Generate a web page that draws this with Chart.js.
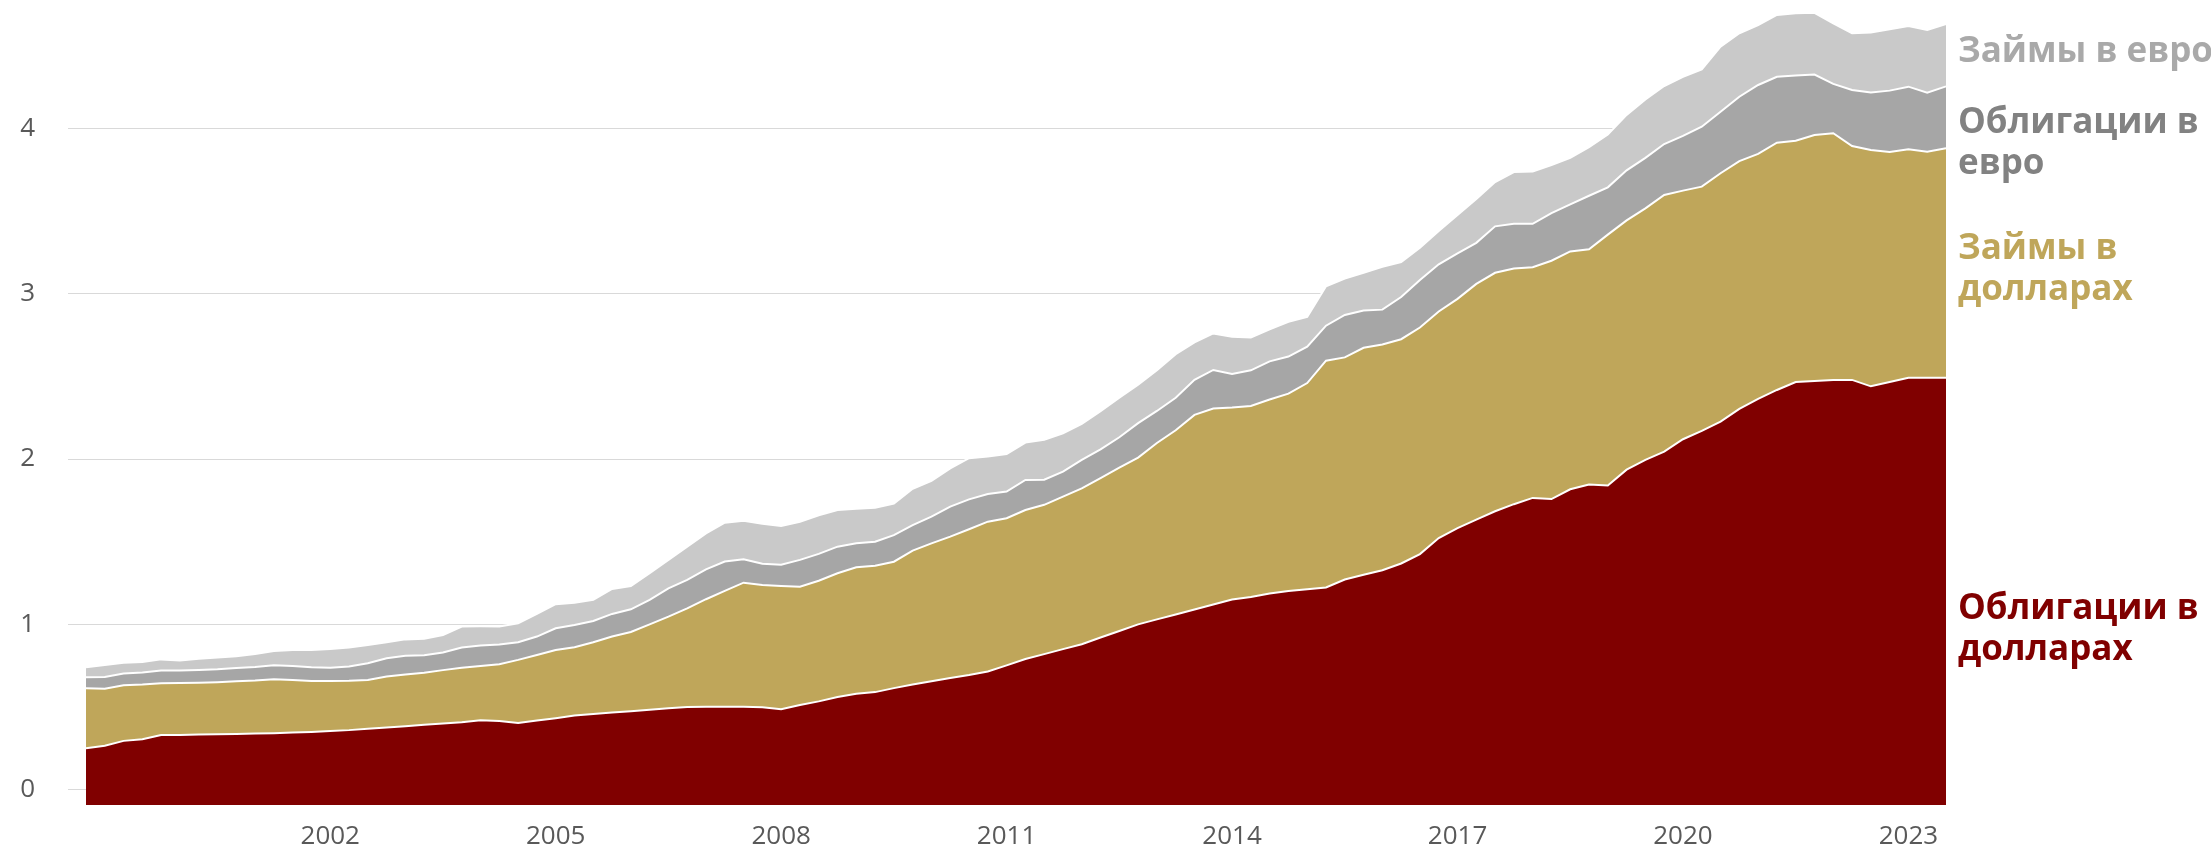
<!DOCTYPE html>
<html>
<head>
<meta charset="utf-8">
<script src="https://cdn.jsdelivr.net/npm/chart.js@4"></script>
<style>
  html,body{margin:0;padding:0;background:#fff;}
  #wrap{width:2211px;height:851px;position:relative;}
</style>
</head>
<body>
<div id="wrap"><canvas id="debtChart"></canvas></div>
<script>
// quarterly series, trillions
const firstYear=1998, firstQuarter=4, quarterCount=100;
const yearTicks=[2002,2005,2008,2011,2014,2017,2020,2023];

const bondsUsd=[
 0.25,0.265,0.295,0.305,0.33,0.331,0.333,0.335,0.337,0.339,
 0.341,0.345,0.349,0.355,0.36,0.368,0.376,0.384,0.392,0.40,
 0.408,0.42,0.415,0.403,0.418,0.432,0.448,0.458,0.466,0.474,
 0.484,0.492,0.50,0.502,0.502,0.502,0.498,0.486,0.512,0.534,
 0.56,0.58,0.59,0.614,0.636,0.656,0.676,0.694,0.715,0.752,
 0.79,0.82,0.85,0.88,0.92,0.96,1.00,1.03,1.06,1.09,
 1.12,1.15,1.165,1.186,1.201,1.212,1.223,1.271,1.30,1.327,
 1.368,1.425,1.522,1.582,1.634,1.684,1.727,1.765,1.758,1.817,
 1.846,1.84,1.936,1.995,2.045,2.12,2.17,2.226,2.303,2.364,
 2.418,2.466,2.472,2.479,2.479,2.44,2.466,2.492,2.492,2.492];

const loansUsd=[
 0.363,0.346,0.337,0.331,0.314,0.314,0.314,0.315,0.318,0.321,
 0.327,0.319,0.308,0.302,0.298,0.295,0.309,0.313,0.315,0.323,
 0.329,0.328,0.344,0.382,0.397,0.413,0.414,0.434,0.460,0.480,
 0.516,0.555,0.597,0.650,0.700,0.750,0.740,0.746,0.716,0.730,
 0.749,0.765,0.765,0.765,0.810,0.834,0.855,0.881,0.906,0.890,
 0.902,0.903,0.923,0.943,0.964,0.988,1.009,1.067,1.114,1.177,
 1.186,1.162,1.156,1.174,1.195,1.248,1.372,1.344,1.373,1.366,
 1.357,1.371,1.371,1.387,1.426,1.443,1.426,1.396,1.442,1.439,
 1.423,1.518,1.508,1.522,1.553,1.504,1.478,1.503,1.500,1.482,
 1.496,1.460,1.489,1.492,1.415,1.430,1.392,1.383,1.368,1.388];

const bondsEur=[
 0.067,0.071,0.070,0.072,0.076,0.076,0.077,0.078,0.081,0.082,
 0.084,0.084,0.083,0.080,0.087,0.102,0.110,0.113,0.106,0.107,
 0.123,0.124,0.119,0.107,0.111,0.131,0.134,0.128,0.137,0.137,
 0.148,0.171,0.172,0.181,0.178,0.142,0.128,0.128,0.162,0.162,
 0.161,0.145,0.145,0.161,0.154,0.162,0.181,0.181,0.168,0.161,
 0.182,0.152,0.151,0.172,0.175,0.184,0.208,0.194,0.197,0.212,
 0.233,0.203,0.216,0.231,0.224,0.220,0.212,0.257,0.226,0.211,
 0.255,0.287,0.285,0.276,0.248,0.281,0.270,0.262,0.288,0.285,
 0.324,0.286,0.303,0.305,0.308,0.331,0.363,0.372,0.389,0.417,
 0.399,0.394,0.365,0.299,0.339,0.347,0.371,0.378,0.357,0.375];

const loansEur=[
 0.060,0.072,0.066,0.064,0.068,0.061,0.068,0.071,0.071,0.079,
 0.087,0.097,0.105,0.114,0.115,0.110,0.097,0.099,0.100,0.106,
 0.127,0.116,0.109,0.114,0.137,0.146,0.135,0.128,0.151,0.141,
 0.161,0.172,0.201,0.217,0.235,0.232,0.243,0.235,0.230,0.234,
 0.222,0.210,0.205,0.190,0.220,0.216,0.232,0.249,0.226,0.228,
 0.226,0.241,0.232,0.218,0.231,0.240,0.233,0.246,0.263,0.227,
 0.221,0.225,0.198,0.194,0.210,0.180,0.238,0.220,0.228,0.259,
 0.212,0.195,0.202,0.232,0.266,0.268,0.313,0.317,0.291,0.281,
 0.294,0.319,0.335,0.353,0.351,0.358,0.347,0.394,0.384,0.363,
 0.374,0.377,0.374,0.366,0.343,0.363,0.371,0.367,0.379,0.377];

const seriesNames=["Облигации в долларах","Займы в долларах","Облигации в евро","Займы в евро"];
const seriesColors=["#800000","#bfa65a","#a6a6a6","#c9c9c9"];

// labels like "2002 Q1"
let quarters=[];
for(let k=0;k<quarterCount;k++){
    let n=firstQuarter-1+k;
    quarters.push((firstYear+Math.floor(n/4))+" Q"+(n%4+1));
}

// series names written at the right edge, baseline of first line in px
const sideLabels=[
    {lines:["Займы в евро"],color:"#a9a9a9",y:62},
    {lines:["Облигации в","евро"],color:"#828282",y:133},
    {lines:["Займы в","долларах"],color:"#bfa65a",y:259},
    {lines:["Облигации в","долларах"],color:"#800000",y:619},
];

const sideLabelPlugin={
    id:"sideLabels",
    afterDraw(chart){
        const ctx=chart.ctx;
        const x=chart.chartArea.right+12;
        ctx.save();
        ctx.font="bold 35px 'Open Sans'";
        ctx.textAlign="left";
        ctx.textBaseline="alphabetic";
        sideLabels.forEach(l=>{
            ctx.fillStyle=l.color;
            l.lines.forEach((t,i)=>ctx.fillText(t,x,l.y+i*41));
        });
        ctx.restore();
    }
};

const datasets=[bondsUsd,loansUsd,bondsEur,loansEur].map((values,i)=>({
    label:seriesNames[i],
    data:values,
    backgroundColor:seriesColors[i],
    borderColor:"#ffffff",
    borderWidth:2,
    pointRadius:0,
    tension:0,
    fill:i==0?"start":"-1",
}));

const ctx=document.getElementById("debtChart").getContext("2d");
const chart=new Chart(ctx,{
    type:"line",
    data:{labels:quarters,datasets:datasets},
    options:{
        responsive:true,
        maintainAspectRatio:false,
        animation:false,
        devicePixelRatio:1,
        layout:{padding:{top:6,right:265,bottom:0,left:0}},
        plugins:{legend:{display:false},tooltip:{enabled:false}},
        scales:{
            x:{
                offset:false,
                grid:{display:false,drawTicks:false},
                border:{display:false},
                afterFit:function(scale){
                    scale.height=46;
                },
                ticks:{
                    autoSkip:false,
                    maxRotation:0,
                    minRotation:0,
                    padding:16,
                    color:"#595959",
                    font:{family:"'Open Sans'",size:26},
                    callback:function(v,i){
                        let q=quarters[i];
                        let year=parseInt(q);
                        return (q.endsWith("Q1") && yearTicks.includes(year))?String(year):"";
                    }
                }
            },
            y:{
                stacked:true,
                min:-0.093,
                max:4.741,
                afterBuildTicks:function(scale){
                    scale.ticks=[0,1,2,3,4].map(v=>({value:v}));
                },
                afterFit:function(scale){
                    // keep the label padding from pushing the plot area in
                    scale.width=86;
                    scale.paddingTop=0;
                    scale.paddingBottom=0;
                },
                grid:{color:"#d9d9d9",lineWidth:1,drawTicks:true,tickLength:18},
                border:{display:false},
                ticks:{
                    padding:33,
                    color:"#595959",
                    font:{family:"'Open Sans'",size:26},
                    callback:v=>String(v)
                }
            }
        }
    },
    plugins:[sideLabelPlugin]
});
</script>
</body>
</html>
